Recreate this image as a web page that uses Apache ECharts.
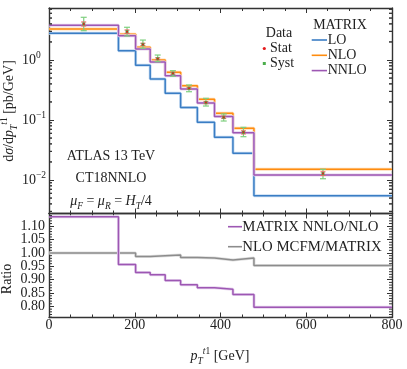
<!DOCTYPE html>
<html><head><meta charset="utf-8">
<script src="https://cdn.jsdelivr.net/npm/echarts@6/dist/echarts.min.js"></script>
<style>html,body{margin:0;padding:0;background:#fff}#c{width:407px;height:369px}</style>
</head><body><div id="c"></div>
<script>
// ---- data ----
const binEdges = [0, 162, 202, 236, 271, 307, 346, 386, 429, 478, 800];
const lo   = [2.79, 1.43, 0.815, 0.482, 0.278, 0.161, 0.0915, 0.0514, 0.0278, 0.00548];
const nlo  = [3.29, 2.68, 1.63, 1.00, 0.624, 0.373, 0.221, 0.129, 0.0726, 0.0151];
const nnlo = [3.78, 2.54, 1.52, 0.926, 0.548, 0.329, 0.192, 0.114, 0.0615, 0.0121];
const dataY  = [3.98, 2.97, 1.82, 1.05, 0.600, 0.337, 0.195, 0.111, 0.0623, 0.0128];
const systHi = [5.15, 3.51, 2.15, 1.21, 0.664, 0.383, 0.230, 0.126, 0.0755, 0.0151];
const systLo = [3.08, 2.51, 1.57, 0.937, 0.535, 0.296, 0.171, 0.0962, 0.0527, 0.0105];
const statHi = [4.30, 3.16, 1.90, 1.09, 0.622, 0.350, 0.203, 0.116, 0.0660, 0.0137];
const statLo = [3.69, 2.78, 1.74, 1.01, 0.578, 0.324, 0.187, 0.106, 0.0587, 0.0119];
const ratioNNLO = [1.135, 0.957, 0.927, 0.919, 0.897, 0.881, 0.870, 0.864, 0.845, 0.797];
const ratioMCFM = [1.000, 1.000, 0.987, 0.990, 0.992, 0.983, 0.981, 0.974, 0.981, 0.953];
const ratioTicks = ['0.80', '0.85', '0.90', '0.95', '1.00', '1.05', '1.10'];
const matrixNames = ['LO', 'NLO', 'NNLO'];
const ratioNames = ['MATRIX NNLO/NLO', 'NLO MCFM/MATRIX'];

// ---- styling ----
const FF = '"Liberation Serif","DejaVu Serif",serif';
const FC = '#222';
const AX = '#333';
const C = {LO:'#3a7dc4', NLO:'#ff8c0f', NNLO:'#9d57b3', gray:'#8c8c8c'};
const CB = {LO:'#c6dcf2', NLO:'#ffdcb5', NNLO:'#e6d3ee', gray:'#e0e0e0'};

const yLogMin = 0.002766, yLogMax = 7.356;
const rMin = 0.7588, rMax = 1.1476;
const ratioTickVals = ratioTicks.map(Number);

const stepData = vals => binEdges.map((e, i) => [e, vals[Math.min(i, vals.length - 1)]]);
const centers = binEdges.slice(0, -1).map((e, i) => (e + binEdges[i + 1]) / 2);

const logMinor = [];
[-3, -2, -1, 0].forEach(k => { for (let m = 2; m <= 9; m++) { const v = m * Math.pow(10, k); if (v > yLogMin && v < yLogMax) logMinor.push([0, v]); } });
const ratioMinor = [];
for (let i = 76; i <= 114; i++) { if (i % 5 !== 0) ratioMinor.push([0, i / 100]); }

const lineBase = {show:true, onZero:false, lineStyle:{color:AX, width:1.4}};
function xAx(grid, pos, labels) {
  return {type:'value', gridIndex:grid, position:pos, min:0, max:800, interval:200,
    axisLine:lineBase, splitLine:{show:false},
    axisTick:{show:true, inside:true, length:5, lineStyle:{color:AX, width:1}},
    minorTick:{show:true, splitNumber:4, length:3, lineStyle:{color:AX, width:1}},
    axisLabel:{show:labels, margin:1, fontFamily:FF, fontSize:14, color:FC, hideOverlap:false}};
}
const supRich = {a:{fontFamily:FF, fontSize:14, color:FC, lineHeight:20},
                 s:{fontFamily:FF, fontSize:9.5, color:FC, lineHeight:10, verticalAlign:'top'}};
function yLog(pos, labels) {
  return {type:'log', logBase:10, gridIndex:0, position:pos, min:yLogMin, max:yLogMax,
    axisLine:lineBase, splitLine:{show:false},
    axisTick:{show:true, inside:true, length:5, lineStyle:{color:AX, width:1}},
    axisLabel:{show:labels, showMinLabel:false, showMaxLabel:false, align:'left', margin:27,
      rich:supRich, hideOverlap:false,
      formatter: v => { const k = Math.round(Math.log10(v)); return '{a|10}{s|' + (k < 0 ? '\u2212' + (-k) : k) + '}'; }}};
}
function yRat(pos) {
  return {type:'value', gridIndex:1, position:pos, min:rMin, max:rMax,
    axisLine:lineBase, splitLine:{show:false},
    axisTick:{show:true, inside:true, length:5, customValues:ratioTickVals, lineStyle:{color:AX, width:1}},
    axisLabel:{show:false}};
}

function minorTickSeries(xi, yi, data) {
  return {type:'custom', xAxisIndex:xi, yAxisIndex:yi, data, silent:true, clip:false, z:10,
    renderItem:(p, api) => {
      const v = api.value(1);
      const a = api.coord([0, v]), b = api.coord([800, v]);
      return {type:'group', children:[
        {type:'line', shape:{x1:a[0], y1:a[1], x2:a[0] + 3, y2:a[1]}, style:{stroke:AX, lineWidth:1}},
        {type:'line', shape:{x1:b[0] - 3, y1:b[1], x2:b[0], y2:b[1]}, style:{stroke:AX, lineWidth:1}}]};
    }};
}
// ratio tick labels placed through the ratio axis scale
const ratioLabelSeries = {type:'custom', xAxisIndex:2, yAxisIndex:2, silent:true, clip:false, z:10,
  data: ratioTicks.map(t => [0, Number(t), t]),
  renderItem:(p, api) => {
    const a = api.coord([0, api.value(1)]);
    return {type:'text', x:a[0] - 4, y:a[1], style:{text:ratioTicks[p.dataIndex], fontFamily:FF, fontSize:14,
      fill:FC, align:'right', verticalAlign:'middle'}};
  }};

function stepSeries(name, xi, yi, vals, color, band, w, z) {
  return [
    {type:'line', xAxisIndex:xi, yAxisIndex:yi, step:'end', data:stepData(vals), symbol:'none', silent:true,
      lineStyle:{color:band, width:3}, z:z},
    {name, type:'line', xAxisIndex:xi, yAxisIndex:yi, step:'end', data:stepData(vals), symbol:'none',
      lineStyle:{color, width:w}, z:z + 1}];
}

const errData = centers.map((x, i) => [x, dataY[i], systLo[i], systHi[i], statLo[i], statHi[i]]);
const errSeries = {type:'custom', xAxisIndex:0, yAxisIndex:0, data:errData, z:20, encode:{x:0, y:1},
  renderItem:(p, api) => {
    const x = api.value(0);
    const c = api.coord([x, api.value(1)]);
    const s0 = api.coord([x, api.value(2)]), s1 = api.coord([x, api.value(3)]);
    const t0 = api.coord([x, api.value(4)]), t1 = api.coord([x, api.value(5)]);
    const g = '#7fcf7f', r = '#ee6a6a';
    return {type:'group', children:[
      {type:'line', shape:{x1:c[0], y1:s0[1], x2:c[0], y2:s1[1]}, style:{stroke:g, lineWidth:1.2}},
      {type:'line', shape:{x1:c[0] - 3, y1:s0[1], x2:c[0] + 3, y2:s0[1]}, style:{stroke:g, lineWidth:1.2}},
      {type:'line', shape:{x1:c[0] - 3, y1:s1[1], x2:c[0] + 3, y2:s1[1]}, style:{stroke:g, lineWidth:1.2}},
      {type:'line', shape:{x1:c[0], y1:t0[1], x2:c[0], y2:t1[1]}, style:{stroke:r, lineWidth:1.2}},
      {type:'line', shape:{x1:c[0] - 2.5, y1:t0[1], x2:c[0] + 2.5, y2:t0[1]}, style:{stroke:r, lineWidth:1.2}},
      {type:'line', shape:{x1:c[0] - 2.5, y1:t1[1], x2:c[0] + 2.5, y2:t1[1]}, style:{stroke:r, lineWidth:1.2}},
      {type:'rect', shape:{x:c[0] - 1.5, y:c[1] - 1.5, width:3, height:3}, style:{fill:'#4cae4c'}},
      {type:'circle', shape:{cx:c[0], cy:c[1], r:1}, style:{fill:'#e41a1c'}}]};
  }};

const tok = (extra) => Object.assign({fontFamily:FF, color:FC, fontWeight:'normal'}, extra);
const rich = {
  n:tok({fontSize:14, lineHeight:20}),
  i:tok({fontSize:14, lineHeight:20, fontStyle:'italic'}),
  sub:tok({fontSize:9.5, lineHeight:10, verticalAlign:'bottom', fontStyle:'italic'}),
  supi:tok({fontSize:9.5, lineHeight:10, verticalAlign:'top', fontStyle:'italic'}),
  supn:tok({fontSize:9.5, lineHeight:10, verticalAlign:'top'})
};
function txt(x, y, text, opts) {
  return Object.assign({type:'text', x, y, z:50, style:Object.assign({text, fontFamily:FF, fontSize:14, fontWeight:'normal', fill:FC,
    align:'center', verticalAlign:'middle', rich}, opts && opts.style)}, opts && opts.el);
}

const graphics = [
  txt(111, 156, 'ATLAS 13 TeV'),
  txt(111, 178, 'CT18NNLO'),
  txt(111, 201, '{i|\u03bc}{sub|F}{n| = }{i|\u03bc}{sub|R}{n| = }{i|H}{sub|T}{n|/4}'),
  txt(279, 33, 'Data'),
  txt(340, 25, 'MATRIX'),
  txt(9, 111, '{n|d}{i|\u03c3}{n|/d}{i|p}{sub|T}{supi|t}{supn|1}{n| [pb/GeV]}', {el:{rotation:Math.PI / 2}}),
  txt(7.5, 279, 'Ratio', {el:{rotation:Math.PI / 2}}),
  txt(220, 356, '{i|p}{sub|T}{supi|t}{supn|1}{n| [GeV]}'),
  // data legend
  {type:'circle', shape:{cx:264.3, cy:48.5, r:1.6}, style:{fill:'#e41a1c'}, z:50},
  txt(270, 48, 'Stat', {style:{align:'left'}}),
  {type:'rect', shape:{x:262.8, y:62, width:3, height:3}, style:{fill:'#4cae4c'}, z:50},
  txt(270, 63.3, 'Syst', {style:{align:'left'}})
];
matrixNames.forEach((nm, i) => {
  const y = 40 + i * 15.3;
  graphics.push({type:'line', shape:{x1:311.7, y1:y, x2:327, y2:y}, style:{stroke:C[nm], lineWidth:1.6}, z:50});
  graphics.push(txt(327.7, y, nm, {style:{align:'left'}}));
});
ratioNames.forEach((nm, i) => {
  const y = 226.7 + i * 20;
  const col = i === 0 ? C.NNLO : C.gray;
  graphics.push({type:'line', shape:{x1:228, y1:y, x2:242, y2:y}, style:{stroke:col, lineWidth:1.6}, z:50});
  graphics.push(txt(242.3, y, nm, {style:{align:'left', fontSize:14.8}}));
});

const option = {
  animation:false,
  backgroundColor:'#fff',
  grid:[{left:49, top:8, width:343, height:205.5}, {left:49, top:213.5, width:343, height:104}],
  xAxis:[xAx(0, 'bottom', false), xAx(0, 'top', false), xAx(1, 'bottom', true), xAx(1, 'top', false)],
  yAxis:[yLog('left', true), yLog('right', false), yRat('left'), yRat('right')],
  series:[
    ...stepSeries('LO', 0, 0, lo, C.LO, CB.LO, 1.5, 2),
    ...stepSeries('NLO', 0, 0, nlo, C.NLO, CB.NLO, 1.5, 4),
    ...stepSeries('NNLO', 0, 0, nnlo, C.NNLO, CB.NNLO, 1.5, 6),
    errSeries,
    minorTickSeries(0, 0, logMinor),
    minorTickSeries(1, 1, logMinor),
    ...stepSeries(ratioNames[1], 2, 2, ratioMCFM, C.gray, CB.gray, 1.5, 2),
    ...stepSeries(ratioNames[0], 2, 2, ratioNNLO, C.NNLO, CB.NNLO, 1.5, 4),
    minorTickSeries(2, 2, ratioMinor),
    ratioLabelSeries
  ],
  graphic:graphics
};
const chart = echarts.init(document.getElementById('c'), null, {renderer:'canvas'});
chart.setOption(option);
</script></body></html>
